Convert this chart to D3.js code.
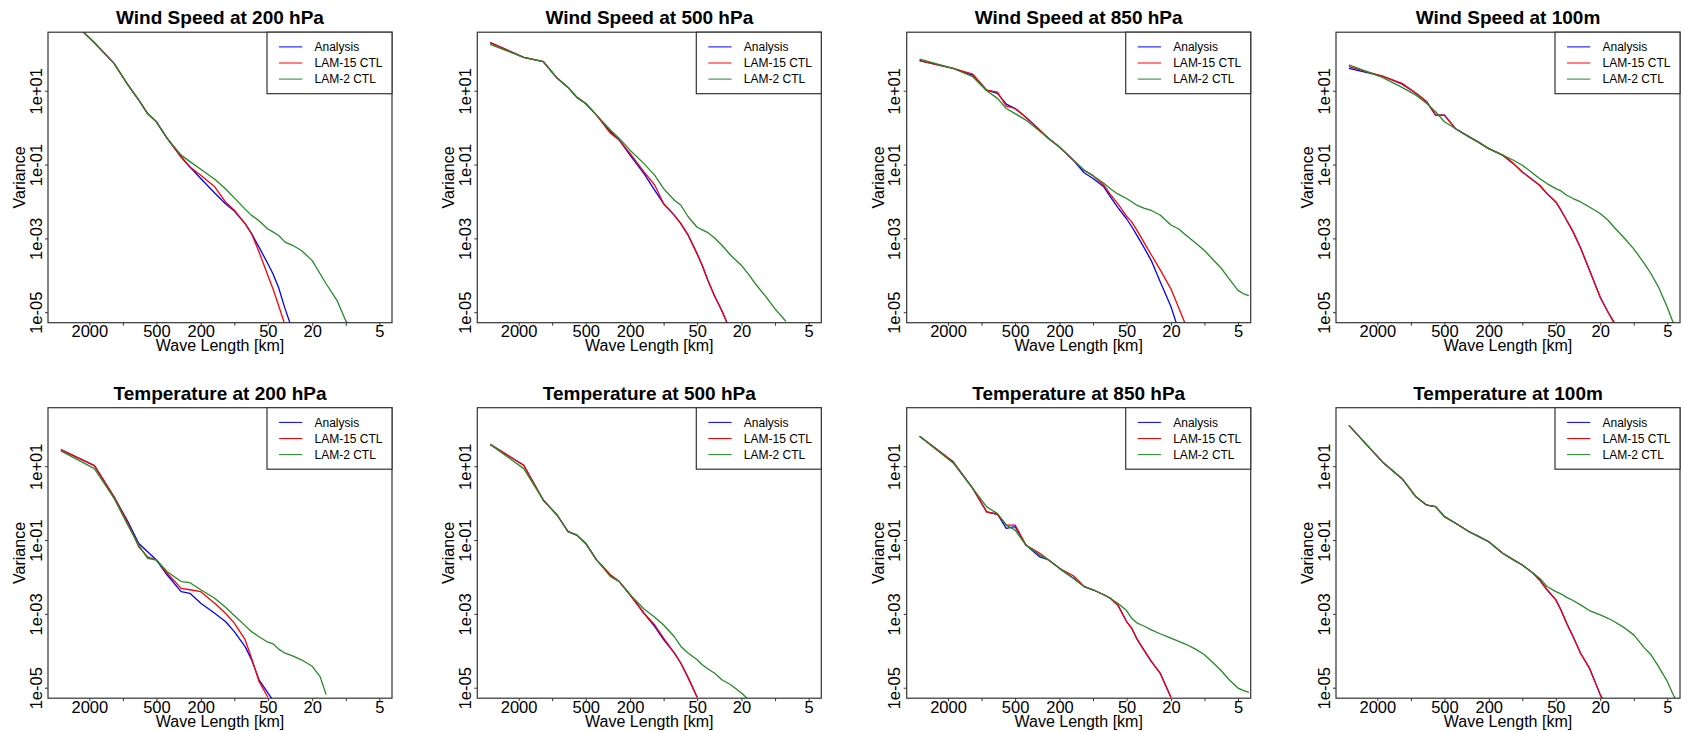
<!DOCTYPE html>
<html>
<head>
<meta charset="utf-8">
<script src="https://cdn.jsdelivr.net/npm/d3@7"></script>
<style>
  body { margin: 0; background: #fff; }
  svg text { font-family: "Liberation Sans", Arial, Helvetica, sans-serif; fill: #000; }
</style>
</head>
<body>
<svg></svg>
<script>
var waveLength = [3600, 1800, 1200, 900, 720, 600, 500, 400, 300, 250, 200, 150, 120, 100, 80, 70, 60, 50, 45, 40, 35, 30, 25, 20, 17, 15, 12, 10, 8, 7, 6, 5, 4.5, 4];

var xTicks = [2000, 1000, 500, 200, 100, 50, 20, 10, 5];
var xTickLabels = ["2000", "", "500", "200", "", "50", "20", "", "5"];
var yTicks = [1e-5, 1e-3, 1e-1, 1e1];
var yTickLabels = ["1e-05", "1e-03", "1e-01", "1e+01"];

var seriesNames = ["Analysis", "LAM-15 CTL", "LAM-2 CTL"];
var seriesColors = ["#0000ff", "#ff0000", "#228b22"];

var titles = [
  "Wind Speed at 200 hPa", "Wind Speed at 500 hPa", "Wind Speed at 850 hPa", "Wind Speed at 100m",
  "Temperature at 200 hPa", "Temperature at 500 hPa", "Temperature at 850 hPa", "Temperature at 100m"
];

// Wind speed 200 hPa
var ws200Analysis = [1500, 200, 55, 14.3, 5.6, 2.4, 1.44, 0.51, 0.16, 0.086, 0.042, 0.017, 0.0087, 0.0055, 0.0025, 0.00134, 5.8e-4, 2.05e-4, 1.1e-4, 4.6e-5, 1.23e-5, 3.2e-6];
var ws200Lam15 = [1500, 200, 55, 14.3, 5.6, 2.4, 1.44, 0.51, 0.16, 0.086, 0.051, 0.025, 0.0097, 0.0058, 0.0025, 0.00134, 4.3e-4, 9.9e-5, 4.3e-5, 1.5e-5, 4.4e-6];
var ws200Lam2 = [1500, 200, 55, 14.3, 5.6, 2.4, 1.44, 0.51, 0.18, 0.12, 0.075, 0.04, 0.022, 0.0125, 0.0062, 0.0042, 0.003, 0.0018, 0.0015, 0.0012, 7.9e-4, 6.5e-4, 4.7e-4, 2.5e-4, 1.1e-4, 5.9e-5, 2.1e-5, 5.9e-6, 2e-6];

// Wind speed 500 hPa
var ws500Analysis = [201, 80, 61, 21.6, 12.3, 6.6, 4.5, 2.18, 0.77, 0.46, 0.18, 0.057, 0.020, 0.0087, 0.0042, 0.0025, 1.2e-3, 3.8e-4, 1.85e-4, 7.2e-5, 2.8e-5, 1.1e-5, 3e-6];
var ws500Lam15 = [201, 80, 61, 21.6, 12.3, 6.6, 4.5, 2.18, 0.7, 0.46, 0.2, 0.063, 0.0275, 0.0087, 0.0042, 0.0025, 1.2e-3, 3.8e-4, 1.85e-4, 7.2e-5, 2.8e-5, 1.1e-5, 3e-6];
var ws500Lam2 = [181, 80, 61, 21.6, 12.3, 6.6, 4.5, 2.18, 0.86, 0.51, 0.245, 0.106, 0.051, 0.0223, 0.0108, 0.0079, 0.0038, 2.0e-3, 1.7e-3, 1.43e-3, 1.04e-3, 6.5e-4, 3.5e-4, 1.85e-4, 1e-4, 5.9e-5, 2.55e-5, 1.23e-5, 5.7e-6];

// Wind speed 850 hPa
var ws850Analysis = [65, 40, 26.6, 10.4, 8.5, 4.35, 3.3, 1.9, 0.85, 0.51, 0.3, 0.13, 0.06, 0.042, 0.025, 0.0135, 0.0069, 0.0034, 0.0021, 0.00115, 5.8e-4, 2.5e-4, 6.8e-5, 1.43e-5, 3.2e-6];
var ws850Lam15 = [65, 40, 28, 10.4, 9.2, 3.8, 3.3, 1.9, 0.85, 0.51, 0.3, 0.13, 0.07, 0.05, 0.0275, 0.0155, 0.0087, 0.004, 0.0028, 0.0016, 7.9e-4, 3.6e-4, 1.42e-4, 4.3e-5, 1.3e-5, 5.2e-6];
var ws850Lam2 = [72, 40, 24, 10, 6.2, 3.3, 2.4, 1.6, 0.8, 0.5, 0.3, 0.13, 0.07, 0.05, 0.031, 0.022, 0.016, 0.012, 0.0098, 0.0078, 0.0066, 0.0057, 0.0043, 0.0023, 0.0018, 0.0013, 7.5e-4, 4.7e-4, 2.3e-4, 1.5e-4, 8e-5, 3.9e-5, 3.2e-5, 2.8e-5];

// Wind speed 100 m
var ws100mAnalysis = [40, 25, 15.1, 8.5, 5.0, 2.18, 2.18, 0.95, 0.56, 0.41, 0.27, 0.18, 0.106, 0.063, 0.0376, 0.0275, 0.0163, 0.0097, 0.0058, 0.0031, 1.5e-3, 5.5e-4, 1.4e-4, 2.55e-5, 1e-5, 5.4e-6];
var ws100mLam15 = [45, 25, 15.8, 8.5, 5.0, 2.18, 2.18, 0.95, 0.56, 0.41, 0.27, 0.18, 0.106, 0.063, 0.0376, 0.0275, 0.0163, 0.0097, 0.0058, 0.0031, 1.5e-3, 5.5e-4, 1.4e-4, 2.55e-5, 1e-5, 5e-6];
var ws100mLam2 = [50, 23, 12.3, 7.6, 4.5, 2.7, 1.44, 0.95, 0.56, 0.41, 0.27, 0.18, 0.131, 0.096, 0.057, 0.042, 0.0305, 0.0223, 0.0193, 0.0147, 0.012, 0.0097, 0.0071, 0.0047, 0.0031, 0.002, 9.8e-4, 5.2e-4, 2.05e-4, 1.1e-4, 4.8e-5, 1.37e-5, 5.9e-6, 3e-6];

// Temperature 200 hPa
var t200Analysis = [28, 10.4, 1.48, 0.31, 0.081, 0.048, 0.0288, 0.0113, 0.004, 0.0036, 1.94e-3, 1.04e-3, 6.2e-4, 3.3e-4, 1.3e-4, 5.7e-5, 1.64e-5, 7.2e-6, 4.6e-6];
var t200Lam15 = [28, 10.4, 1.48, 0.28, 0.066, 0.035, 0.0288, 0.0126, 0.0049, 0.0045, 4.0e-3, 1.94e-3, 1.04e-3, 5.6e-4, 2.0e-4, 6.3e-5, 1.48e-5, 5.5e-6];
var t200Lam2 = [26, 8.6, 1.34, 0.25, 0.073, 0.032, 0.0288, 0.0139, 0.0075, 0.007, 4.5e-3, 2.65e-3, 1.51e-3, 9e-4, 4.8e-4, 3.3e-4, 2.4e-4, 1.71e-4, 1.55e-4, 1.11e-4, 8.6e-5, 7.3e-5, 5.7e-5, 3.8e-5, 2.0e-5, 6.5e-6];

// Temperature 500 hPa
var t500Analysis = [39, 10.6, 1.2, 0.47, 0.168, 0.136, 0.081, 0.029, 0.0113, 0.0075, 3.3e-3, 1.04e-3, 4.5e-4, 2.0e-4, 8.6e-5, 4.6e-5, 1.82e-5, 5.5e-6];
var t500Lam15 = [39, 10.6, 1.2, 0.47, 0.168, 0.136, 0.081, 0.029, 0.0113, 0.0075, 3.3e-3, 1.04e-3, 5.0e-4, 2.2e-4, 8.6e-5, 4.6e-5, 1.82e-5, 5.5e-6];
var t500Lam2 = [39, 8.6, 1.2, 0.47, 0.168, 0.136, 0.081, 0.029, 0.0102, 0.0075, 3.3e-3, 1.36e-3, 8.1e-4, 5.0e-4, 2.4e-4, 1.31e-4, 8.6e-5, 5.7e-5, 4.2e-5, 3.2e-5, 2.5e-5, 1.64e-5, 1.2e-5, 7.2e-6, 4.5e-6];

// Temperature 850 hPa
var t850Analysis = [65, 13.1, 2.5, 0.58, 0.5, 0.207, 0.23, 0.073, 0.035, 0.029, 0.0171, 0.0092, 0.0055, 0.0045, 0.0033, 0.00265, 1.75e-3, 6.2e-4, 4.1e-4, 2.0e-4, 1.06e-4, 5.2e-5, 2.5e-5, 5.5e-6];
var t850Lam15 = [65, 13.1, 2.5, 0.58, 0.5, 0.254, 0.254, 0.073, 0.044, 0.029, 0.0171, 0.0108, 0.0055, 0.0045, 0.0033, 0.00265, 1.75e-3, 6.2e-4, 4.1e-4, 2.0e-4, 1.06e-4, 5.2e-5, 2.5e-5, 5.5e-6];
var t850Lam2 = [65, 12.3, 2.5, 0.79, 0.52, 0.254, 0.186, 0.073, 0.039, 0.029, 0.0171, 0.0092, 0.0055, 0.0045, 0.0033, 0.00265, 1.94e-3, 1.23e-3, 7.6e-4, 5.6e-4, 4.7e-4, 3.7e-4, 2.9e-4, 2.2e-4, 1.79e-4, 1.55e-4, 1.11e-4, 7.8e-5, 4.2e-5, 2.8e-5, 1.64e-5, 9.8e-6, 8.5e-6, 7.5e-6];

// Temperature 100 m
var t100mAnalysis = [128, 13.1, 4.6, 1.48, 0.88, 0.8, 0.43, 0.29, 0.168, 0.128, 0.09, 0.044, 0.029, 0.0211, 0.0126, 0.0083, 0.0045, 2.4e-3, 1.28e-3, 5.6e-4, 2.4e-4, 8.6e-5, 3.4e-5, 6.5e-6, 2.5e-6];
var t100mLam15 = [128, 13.1, 4.6, 1.48, 0.88, 0.8, 0.43, 0.29, 0.168, 0.128, 0.09, 0.044, 0.029, 0.0211, 0.0126, 0.0083, 0.0045, 2.4e-3, 1.28e-3, 5.6e-4, 2.4e-4, 8.6e-5, 3.4e-5, 6.5e-6, 2.5e-6];
var t100mLam2 = [128, 13.1, 4.6, 1.48, 0.88, 0.8, 0.43, 0.29, 0.168, 0.128, 0.09, 0.044, 0.029, 0.0211, 0.0126, 0.0092, 0.0055, 4.0e-3, 3.5e-3, 2.8e-3, 2.3e-3, 1.75e-3, 1.23e-3, 9.4e-4, 7.6e-4, 6.2e-4, 4.1e-4, 2.7e-4, 1.18e-4, 7.8e-5, 3.8e-5, 1.48e-5, 7.2e-6, 3.5e-6];

var panelSeries = [
  [ws200Analysis, ws200Lam15, ws200Lam2],
  [ws500Analysis, ws500Lam15, ws500Lam2],
  [ws850Analysis, ws850Lam15, ws850Lam2],
  [ws100mAnalysis, ws100mLam15, ws100mLam2],
  [t200Analysis, t200Lam15, t200Lam2],
  [t500Analysis, t500Lam15, t500Lam2],
  [t850Analysis, t850Lam15, t850Lam2],
  [t100mAnalysis, t100mLam15, t100mLam2]
];

// Layout
var width = 1684;
var height = 732;
var colX = [48, 477.3, 906.7, 1336];
var rowY = [32.2, 407.7];
var plotW = 344;
var plotH = 290.5;
var frameColor = "#333";

var svg = d3.select("svg")
  .attr("width", width)
  .attr("height", height);

// Shared log scales (wave length decreases to the right)
var x = d3.scaleLog()
  .domain([4698, 3.846])
  .range([0, plotW]);

var y = d3.scaleLog()
  .domain([5.2e-6, 384.6])
  .range([plotH, 0]);

var line = d3.line()
  .x(function(d) { return x(d[0]); })
  .y(function(d) { return y(d[1]); });

panelSeries.forEach(function(series, i) {
  var g = svg.append("g")
    .attr("transform", "translate(" + colX[i % 4] + "," + rowY[Math.floor(i / 4)] + ")");

  g.append("clipPath")
    .attr("id", "clip" + i)
    .append("rect")
    .attr("width", plotW)
    .attr("height", plotH);

  // Spectra
  var lines = g.append("g").attr("clip-path", "url(#clip" + i + ")");
  series.forEach(function(values, s) {
    lines.append("path")
      .datum(values.map(function(v, k) { return [waveLength[k], v]; }))
      .attr("d", line)
      .attr("fill", "none")
      .attr("stroke", seriesColors[s])
      .attr("stroke-width", 1.3)
      .attr("stroke-linejoin", "round");
  });

  // X axis
  var xAxis = g.append("g")
    .attr("transform", "translate(0," + plotH + ")")
    .call(d3.axisBottom(x)
      .tickValues(xTicks)
      .tickSize(3)
      .tickFormat(function(d, k) { return xTickLabels[k]; }));
  xAxis.select(".domain").remove();
  xAxis.selectAll("line").attr("stroke", frameColor);
  xAxis.selectAll("text")
    .attr("y", 14.7)
    .attr("dy", null)
    .style("font-size", "16.5px")
    .attr("font-family", null);

  // Y axis, labels parallel to the axis
  var yAxis = g.append("g")
    .call(d3.axisLeft(y)
      .tickValues(yTicks)
      .tickSize(3)
      .tickFormat(function(d, k) { return yTickLabels[k]; }));
  yAxis.select(".domain").remove();
  yAxis.selectAll("line").attr("stroke", frameColor);
  yAxis.selectAll("text")
    .attr("x", null)
    .attr("dy", null)
    .attr("text-anchor", "middle")
    .attr("transform", "translate(-6.3,0) rotate(-90)")
    .style("font-size", "16.5px")
    .attr("font-family", null);

  // Frame
  g.append("rect")
    .attr("width", plotW)
    .attr("height", plotH)
    .attr("fill", "none")
    .attr("stroke", frameColor)
    .attr("stroke-width", 1.2);

  // Title and axis labels
  g.append("text")
    .attr("x", plotW / 2)
    .attr("y", -8.2)
    .attr("text-anchor", "middle")
    .style("font-size", "19px")
    .style("font-weight", "bold")
    .text(titles[i]);

  g.append("text")
    .attr("x", plotW / 2)
    .attr("y", plotH + 28.4)
    .attr("text-anchor", "middle")
    .style("font-size", "16px")
    .text("Wave Length [km]");

  g.append("text")
    .attr("transform", "translate(-23," + plotH / 2 + ") rotate(-90)")
    .attr("text-anchor", "middle")
    .style("font-size", "16px")
    .text("Variance");

  // Legend
  var legend = g.append("g").attr("transform", "translate(219,0)");
  legend.append("rect")
    .attr("width", plotW - 219)
    .attr("height", 61.5)
    .attr("fill", "#fff")
    .attr("stroke", frameColor)
    .attr("stroke-width", 1.2);
  seriesNames.forEach(function(name, s) {
    var ly = 14.7 + s * 16.1;
    legend.append("line")
      .attr("x1", 12)
      .attr("x2", 35.3)
      .attr("y1", ly)
      .attr("y2", ly)
      .attr("stroke", seriesColors[s])
      .attr("stroke-width", 1);
    legend.append("text")
      .attr("x", 47.5)
      .attr("y", ly + 4.2)
      .style("font-size", "12px")
      .text(name);
  });
});
</script>
</body>
</html>
